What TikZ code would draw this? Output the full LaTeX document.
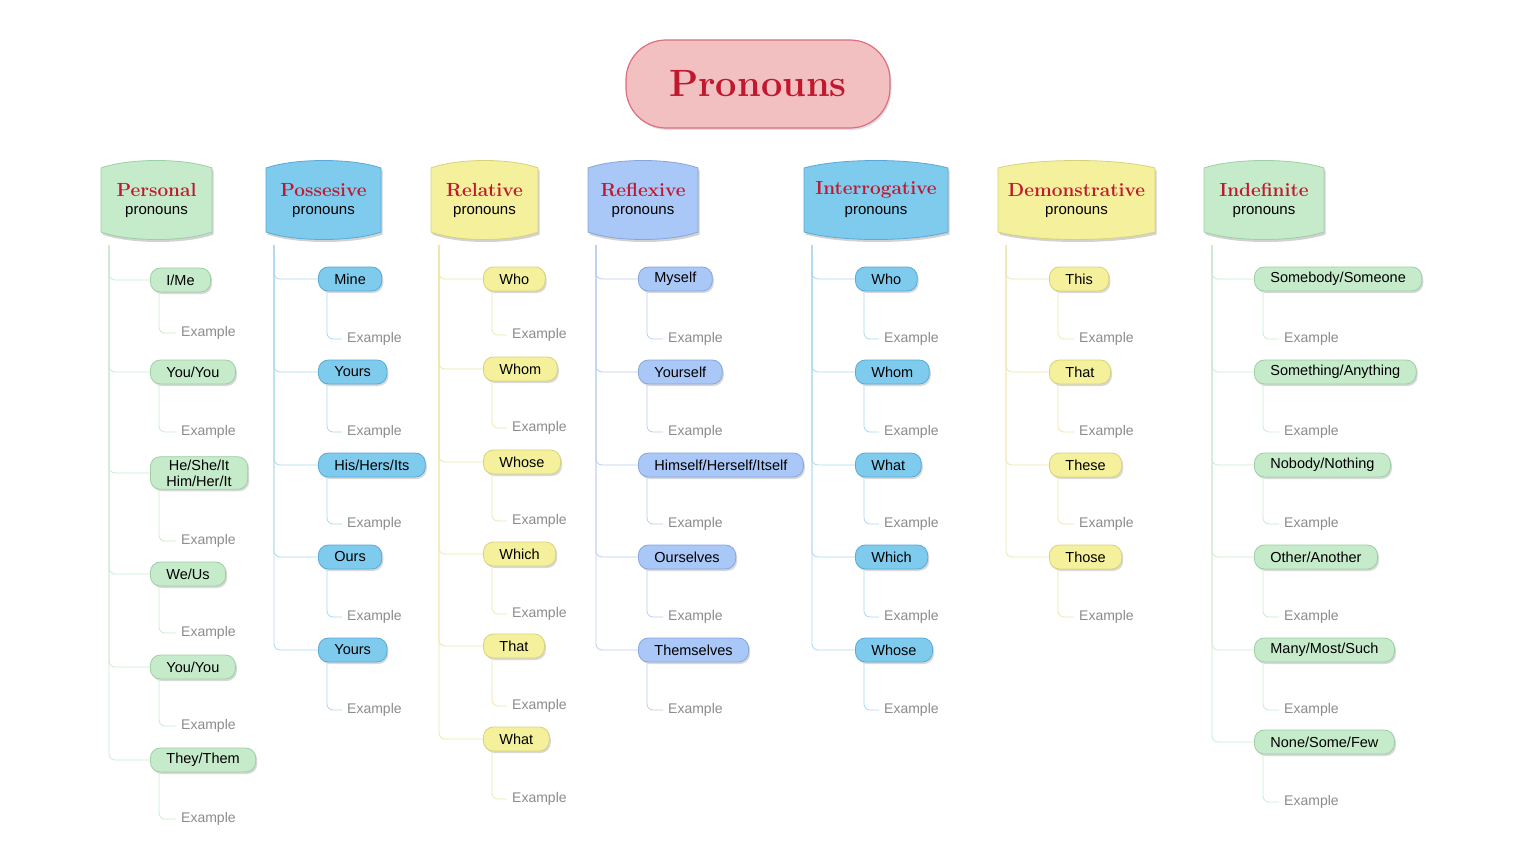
\documentclass[tikz,border=0pt]{standalone}
\usepackage{fontspec}
\newfontfamily\sansf{Liberation Sans}
\usetikzlibrary{shadows,calc}
\definecolor{gF}{HTML}{C6EBCB}\definecolor{gD}{HTML}{9CCFA4}\definecolor{gL}{HTML}{CBEBD0}
\definecolor{bF}{HTML}{7FCBEE}\definecolor{bD}{HTML}{5AA9D6}\definecolor{bL}{HTML}{A8D8F0}
\definecolor{yF}{HTML}{F5F09C}\definecolor{yD}{HTML}{D8D27A}\definecolor{yL}{HTML}{EDE8A8}
\definecolor{pF}{HTML}{A9C7F7}\definecolor{pD}{HTML}{86A6DD}\definecolor{pL}{HTML}{B9CDF0}
\definecolor{ttl}{HTML}{C0182F}
\tikzset{x=1pt,y=-1pt,
 item/.style={fill=#1F, draw=#1D, line width=0.8pt, rounded corners=10pt, minimum height=24pt, inner xsep=16pt, inner ysep=3pt, align=center,
   font=\sansf\fontsize{14.5}{16}\selectfont, anchor=west, drop shadow={opacity=0.3, shadow xshift=1.5pt, shadow yshift=-2pt}},
 ex/.style={anchor=west, text=black!45, font=\sansf\fontsize{14}{16}\selectfont, inner sep=1pt},
 link/.style={draw=#1L, line width=0.8pt, rounded corners=6pt},
 hword/.style={text=ttl, font=\bfseries\fontsize{19}{22}\selectfont, inner sep=0pt},
 hsub/.style={font=\sansf\fontsize{15}{17}\selectfont, inner sep=0pt}}
\newcommand\hdr[5]{%
 \path[fill=#4F, draw=#4D, line width=0.8pt, drop shadow={opacity=0.35, shadow xshift=1.5pt, shadow yshift=-2.5pt}]
  (#2,168) .. controls ({#2+0.25*(#3-#2)},158) and ({#3-0.25*(#3-#2)},158) .. (#3,168) -- (#3,232)
  .. controls ({#3-0.25*(#3-#2)},242) and ({#2+0.25*(#3-#2)},242) .. (#2,232) -- cycle;
 \node[hword] (#1) at ({(#2+#3)/2},190) {#5};
 \node[hsub] (#1s) at ({(#2+#3)/2},212) {pronouns};
 \coordinate (#1top) at ({#2+8},245);}
\newcommand\col[5]{%
 \foreach \t/\y/\e [count=\k] in {#5} {
   \node[item=#2] (#1i\k) at (#3,\y) {\t};
   \node[ex] (#1e\k) at (#4,\e) {Example};
   \draw[link=#2] (#1top) |- (#1i\k.west);
   \draw[link=#2] ([xshift=9pt]#1i\k.south west) |- ([xshift=-4pt]#1e\k.west);
 }}
\begin{document}
\begin{tikzpicture}
\useasboundingbox[fill=white] (0,0) rectangle (1536,864);
\node[draw={rgb,255:red,222;green,110;blue,128}, fill={rgb,255:red,242;green,192;blue,192}, line width=1.2pt, rounded corners=40pt,
  minimum width=264pt, minimum height=88pt, text=ttl, font=\bfseries\fontsize{38}{42}\selectfont,
  drop shadow={opacity=0.25, shadow xshift=1.5pt, shadow yshift=-2pt}] (title) at (758,84) {Pronouns};
\hdr{A}{101}{212}{g}{Personal}
\hdr{B}{266}{381}{b}{Possesive}
\hdr{C}{431}{538}{y}{Relative}
\hdr{D}{588}{698}{p}{Reflexive}
\hdr{E}{804}{948}{b}{Interrogative}
\hdr{F}{998}{1155}{y}{Demonstrative}
\hdr{G}{1204}{1324}{g}{Indefinite}
\col{A}{g}{150}{180}{{I/Me}/280/333,{You/You}/372/432,{He/She/It\\Him/Her/It}/473/541,{We/Us}/574/633,{You/You}/667/726,{They/Them}/760/819}
\col{B}{b}{318}{346}{Mine/279/339,Yours/372/432,{His/Hers/Its}/465/524,Ours/557/617,Yours/650/710}
\col{C}{y}{483}{511}{Who/279/335,Whom/369/428,Whose/462/521,Which/554/614,That/646/706,What/739/799}
\col{D}{p}{638}{667}{Myself/279/339,Yourself/372/432,{Himself/Herself/Itself}/465/524,Ourselves/557/617,Themselves/650/710}
\col{E}{b}{855}{883}{Who/279/339,Whom/372/432,What/465/524,Which/557/617,Whose/650/710}
\col{F}{y}{1049}{1078}{This/279/339,That/372/432,These/465/524,Those/557/617}
\col{G}{g}{1254}{1283}{{Somebody/Someone}/279/339,{Something/Anything}/372/432,{Nobody/Nothing}/465/524,{Other/Another}/557/617,{Many/Most/Such}/650/710,{None/Some/Few}/742/802}
\end{tikzpicture}
\end{document}
